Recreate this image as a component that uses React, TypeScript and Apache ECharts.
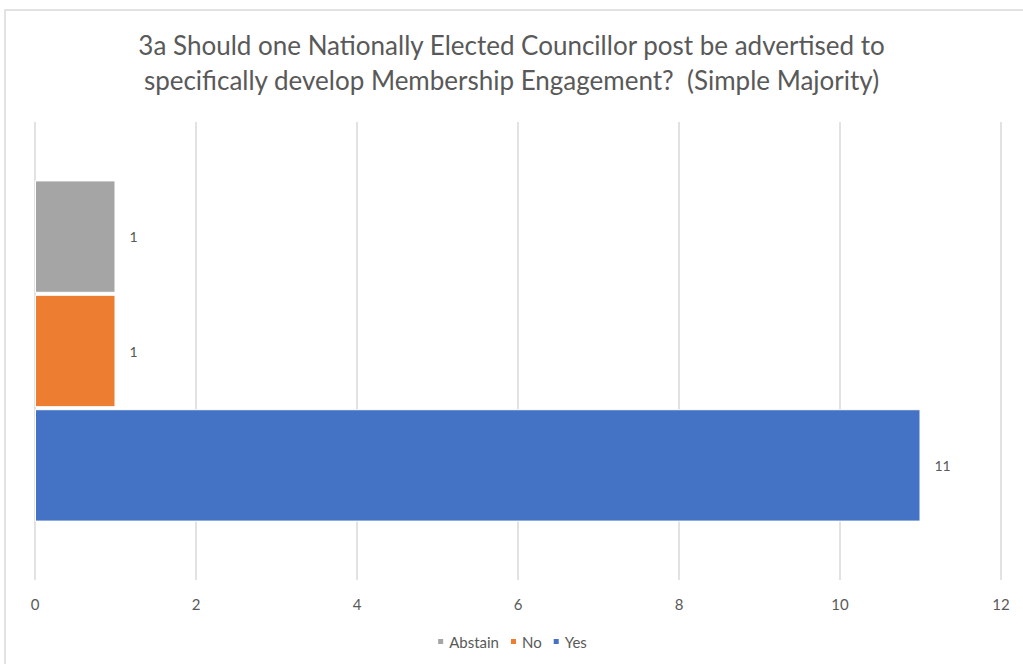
import React, { useEffect, useRef } from "react";
import * as echarts from "echarts";

const categories = ["3a"];
const seriesNames = ["Abstain", "No", "Yes"];
const yesValues = [11];
const noValues = [1];
const abstainValues = [1];
const legendOrder = ["Abstain", "No", "Yes"];
const xTicks = [0, 2, 4, 6, 8, 10, 12];
const titleText =
  "3a Should one Nationally Elected Councillor post be advertised to\nspecifically develop Membership Engagement?  (Simple Majority)";

const colors: Record<string, string> = {
  Yes: "#4472c4",
  No: "#ed7d31",
  Abstain: "#a5a5a5",
};

export default function App() {
  const ref = useRef<HTMLDivElement>(null);
  useEffect(() => {
    if (!ref.current) return;
    const chart = echarts.init(ref.current, null, { renderer: "svg" });
    const values: Record<string, number[]> = {
      Yes: yesValues,
      No: noValues,
      Abstain: abstainValues,
    };
    chart.setOption({
      animation: false,
      textStyle: { fontFamily: "Lato" },
      title: {
        text: titleText,
        left: "center",
        top: 22,
        textStyle: {
          fontFamily: "Lato",
          fontSize: 26,
          fontWeight: "normal",
          color: "#595959",
          lineHeight: 35,
        },
      },
      graphic: [
        {
          type: "rect",
          shape: { x: 5, y: 10, width: 1040, height: 700 },
          style: { fill: "none", stroke: "#d9d9d9", lineWidth: 1.5 },
          silent: true,
        },
      ],
      legend: {
        data: legendOrder,
        bottom: 10,
        left: "center",
        icon: "rect",
        itemWidth: 7,
        itemHeight: 7,
        itemGap: 10,
        textStyle: { color: "#595959", fontSize: 15, fontFamily: "Lato" },
      },
      grid: { left: 35, right: 22, top: 122, bottom: 84, containLabel: false },
      xAxis: {
        type: "value",
        min: 0,
        max: xTicks[xTicks.length - 1],
        interval: 2,
        axisLine: { show: false },
        axisTick: { show: false },
        axisLabel: { color: "#595959", fontSize: 15, margin: 16, fontFamily: "Lato" },
        splitLine: { lineStyle: { color: "#d9d9d9", width: 1.5 } },
      },
      yAxis: {
        type: "category",
        data: categories,
        axisLine: { show: false },
        axisTick: { show: false },
        axisLabel: { show: false },
      },
      series: seriesNames.map((name) => ({
        name,
        type: "bar",
        data: values[name],
        barCategoryGap: "25.5%",
        barGap: "1.8%",
        itemStyle: { color: colors[name], borderColor: "#ffffff", borderWidth: 1 },
        label: {
          show: true,
          position: "right",
          distance: 14,
          color: "#595959",
          fontSize: 14,
          fontFamily: "Lato",
        },
      })),
    });
    return () => chart.dispose();
  }, []);
  return (
    <div
      ref={ref}
      style={{ position: "fixed", left: 0, top: 0, width: 1023, height: 664, background: "#fff" }}
    />
  );
}
